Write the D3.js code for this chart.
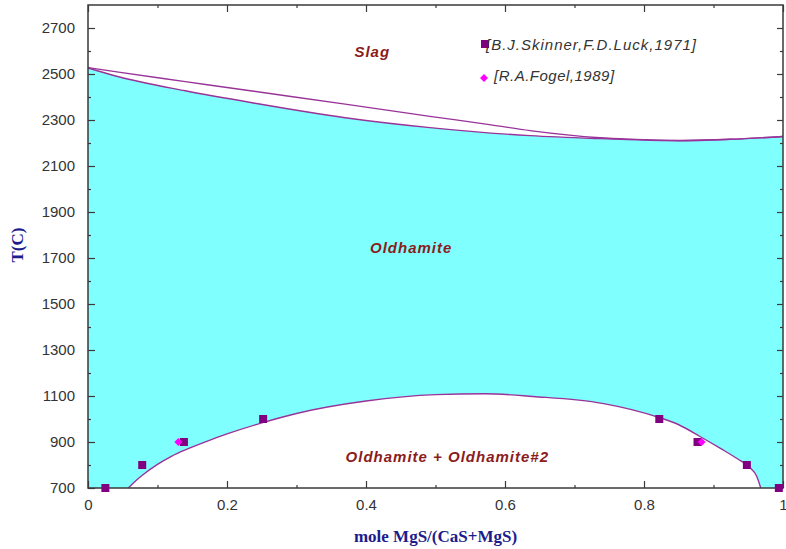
<!DOCTYPE html>
<html>
<head>
<meta charset="utf-8">
<script src="https://cdn.jsdelivr.net/npm/d3@7"></script>
<style>
  html, body { margin: 0; padding: 0; background: #fff; }
  svg { display: block; }
</style>
</head>
<body>
<svg id="chart" width="786" height="549"></svg>
<script>
// CaS–MgS pseudo-binary phase diagram

// Liquidus (upper boundary of the Slag field)
const liquidusX = [0, 0.044, 0.14, 0.236, 0.37, 0.492, 0.58, 0.636, 0.737, 0.777, 0.852, 0.924, 1.0];
const liquidusT = [2528, 2508, 2467, 2426, 2369, 2316, 2279, 2254, 2223, 2217, 2211, 2216, 2228];

// Solidus (upper boundary of the Oldhamite field)
const solidusX = [0, 0.044, 0.14, 0.236, 0.37, 0.492, 0.636, 0.737, 0.777, 0.852, 0.924, 1.0];
const solidusT = [2526, 2488, 2427, 2375, 2310, 2267, 2232, 2219, 2215, 2210, 2216, 2228];

// Miscibility gap (Oldhamite + Oldhamite#2)
const gapX = [0.058, 0.07, 0.08, 0.10, 0.12, 0.14, 0.17, 0.20, 0.25, 0.30, 0.40, 0.50, 0.57, 0.64, 0.74, 0.82, 0.85, 0.88, 0.91, 0.935, 0.952, 0.962, 0.968];
const gapT = [700, 735, 760, 803, 838, 866, 902, 935, 983, 1024, 1078, 1106, 1110, 1098, 1068, 1008, 975, 925, 872, 826, 790, 752, 700];

// Experimental points
const skinnerX = [0.025, 0.078, 0.138, 0.252, 0.822, 0.877, 0.948, 0.994];
const skinnerT = [700, 800, 900, 1000, 1000, 900, 800, 700];
const fogelX = [0.130, 0.883];
const fogelT = [900, 900];

// Axis ticks
const xTicks = [0, 0.2, 0.4, 0.6, 0.8, 1];
const xTickLabels = ["0", "0.2", "0.4", "0.6", "0.8", "1"];
const xMinorTicks = [0.1, 0.3, 0.5, 0.7, 0.9];
const yTicks = [700, 900, 1100, 1300, 1500, 1700, 1900, 2100, 2300, 2500, 2700];
const yMinorTicks = [800, 1000, 1200, 1400, 1600, 1800, 2000, 2200, 2400, 2600];

const legendLabels = ["[B.J.Skinner,F.D.Luck,1971]", "[R.A.Fogel,1989]"];

const svg = d3.select("#chart");
const L = 88, R = 783, T = 5, B = 488;

const x = d3.scaleLinear().domain([0, 1]).range([L, R]);
const y = d3.scaleLinear().domain([700, 2800]).range([B, T]);

const zip = (xs, ts) => xs.map((v, i) => [v, ts[i]]);
const liquidus = zip(liquidusX, liquidusT);
const solidus = zip(solidusX, solidusT);
const gap = zip(gapX, gapT);

const lineGen = d3.line().x(d => x(d[0])).y(d => y(d[1])).curve(d3.curveMonotoneX);
const areaGen = d3.area().x(d => x(d[0])).y0(y(700)).y1(d => y(d[1])).curve(d3.curveMonotoneX);

// Oldhamite single-phase field
svg.append("path").attr("d", areaGen(solidus)).attr("fill", "#80ffff");
// Two-phase field below the miscibility gap
svg.append("path").attr("d", areaGen(gap)).attr("fill", "#ffffff");

const lineColor = "#993399";
[liquidus, solidus, gap].forEach(pts => {
  svg.append("path")
    .attr("d", lineGen(pts))
    .attr("fill", "none")
    .attr("stroke", lineColor)
    .attr("stroke-width", 1.4);
});

// Axes with inward ticks
const axisColor = "#3a3a3a";
function styleAxis(g) {
  g.select(".domain").remove();
  g.selectAll("line").attr("stroke", axisColor).attr("stroke-width", 1.2);
  g.selectAll("text")
    .attr("fill", "#333")
    .style("font-family", "Arial, 'Liberation Sans', sans-serif")
    .style("font-size", "15px");
}

svg.append("g").attr("transform", `translate(0,${B})`)
  .call(d3.axisBottom(x).tickValues(xTicks).tickSize(-7).tickPadding(11)
    .tickFormat((d, i) => xTickLabels[i]))
  .call(styleAxis);
svg.append("g").attr("transform", `translate(0,${B})`)
  .call(d3.axisBottom(x).tickValues(xMinorTicks).tickSize(-3).tickFormat(""))
  .call(styleAxis);
svg.append("g").attr("transform", `translate(0,${T})`)
  .call(d3.axisTop(x).tickValues(xTicks).tickSize(-7).tickFormat(""))
  .call(styleAxis);
svg.append("g").attr("transform", `translate(0,${T})`)
  .call(d3.axisTop(x).tickValues(xMinorTicks).tickSize(-3).tickFormat(""))
  .call(styleAxis);

svg.append("g").attr("transform", `translate(${L},0)`)
  .call(d3.axisLeft(y).tickValues(yTicks).tickSize(-7).tickPadding(13).tickFormat(d3.format("d")))
  .call(styleAxis);
svg.append("g").attr("transform", `translate(${L},0)`)
  .call(d3.axisLeft(y).tickValues(yMinorTicks).tickSize(-3).tickFormat(""))
  .call(styleAxis);
svg.append("g").attr("transform", `translate(${R},0)`)
  .call(d3.axisRight(y).tickValues(yTicks).tickSize(-6).tickFormat(""))
  .call(styleAxis);
svg.append("g").attr("transform", `translate(${R},0)`)
  .call(d3.axisRight(y).tickValues(yMinorTicks).tickSize(-3).tickFormat(""))
  .call(styleAxis);

// Frame
svg.append("rect")
  .attr("x", L).attr("y", T).attr("width", R - L).attr("height", B - T)
  .attr("fill", "none").attr("stroke", axisColor).attr("stroke-width", 1.5);

// Experimental markers
const skinnerColor = "#800080", fogelColor = "#ff00ff";
const sq = 8;
svg.append("g").selectAll("rect")
  .data(zip(skinnerX, skinnerT)).join("rect")
  .attr("x", d => x(d[0]) - sq / 2).attr("y", d => y(d[1]) - sq / 2)
  .attr("width", sq).attr("height", sq).attr("fill", skinnerColor);

const diamond = d3.symbol().type(d3.symbolDiamond2).size(40);
svg.append("g").selectAll("path")
  .data(zip(fogelX, fogelT)).join("path")
  .attr("transform", d => `translate(${x(d[0])},${y(d[1])})`)
  .attr("d", diamond).attr("fill", fogelColor);

// Legend
const legendFont = "Arial, 'Liberation Sans', sans-serif";
svg.append("rect").attr("x", 481).attr("y", 40).attr("width", sq).attr("height", sq).attr("fill", skinnerColor);
svg.append("text").attr("x", 486).attr("y", 49.5).text(legendLabels[0])
  .attr("fill", "#333").style("font-family", legendFont).style("font-style", "italic")
  .style("font-size", "15px").style("letter-spacing", "1px");
svg.append("path").attr("transform", "translate(484,78)").attr("d", diamond).attr("fill", fogelColor);
svg.append("text").attr("x", 494).attr("y", 80.5).text(legendLabels[1])
  .attr("fill", "#333").style("font-family", legendFont).style("font-style", "italic")
  .style("font-size", "15px").style("letter-spacing", "0.5px");

// Phase field labels
const fieldColor = "#8b1c1c";
function fieldLabel(text, xv, tv) {
  svg.append("text")
    .attr("x", x(xv)).attr("y", y(tv))
    .attr("text-anchor", "middle").attr("dy", "0.35em")
    .attr("fill", fieldColor)
    .style("font-family", "Arial, 'Liberation Sans', sans-serif")
    .style("font-weight", "bold").style("font-style", "italic")
    .style("font-size", "15px").style("letter-spacing", "1px")
    .text(text);
}
fieldLabel("Slag", 0.409, 2595);
fieldLabel("Oldhamite", 0.465, 1745);
fieldLabel("Oldhamite + Oldhamite#2", 0.517, 838);

// Axis titles
const titleColor = "#1c1c8c";
svg.append("text")
  .attr("x", (L + R) / 2).attr("y", 542)
  .attr("text-anchor", "middle")
  .attr("fill", titleColor)
  .style("font-family", "'Times New Roman', 'Liberation Serif', serif")
  .style("font-weight", "bold").style("font-size", "17px")
  .text("mole MgS/(CaS+MgS)");
svg.append("text")
  .attr("transform", "translate(23,245) rotate(-90)")
  .attr("text-anchor", "middle")
  .attr("fill", titleColor)
  .style("font-family", "'Times New Roman', 'Liberation Serif', serif")
  .style("font-weight", "bold").style("font-size", "17px")
  .text("T(C)");
</script>
</body>
</html>
